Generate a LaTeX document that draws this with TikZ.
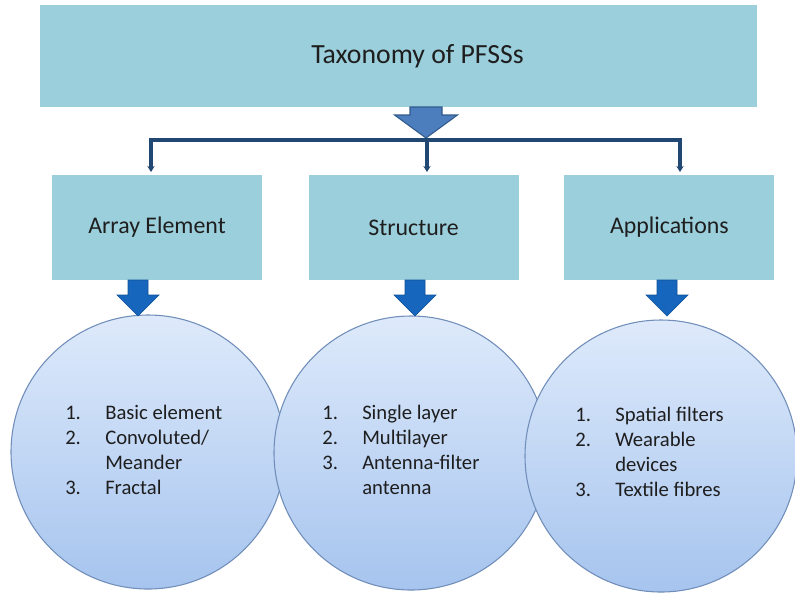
\documentclass[tikz,border=0pt]{standalone}
\usepackage{fontspec}
\setmainfont{Carlito}
\usetikzlibrary{positioning,arrows.meta}
\definecolor{boxblue}{RGB}{155,207,220}
\definecolor{treeblue}{RGB}{33,72,115}
\definecolor{toparrfill}{RGB}{76,126,190}
\definecolor{toparrline}{RGB}{50,90,140}
\definecolor{downblue}{RGB}{22,102,190}
\definecolor{circtop}{RGB}{222,234,251}
\definecolor{circbot}{RGB}{166,196,238}
\definecolor{circline}{RGB}{112,142,185}
\definecolor{textgray}{RGB}{30,30,30}
\newcommand{\lnum}[1]{\makebox[30pt][l]{#1}}

\begin{document}
\begin{tikzpicture}[x=0.75pt,y=-0.75pt,
topnode/.style={rectangle, fill=boxblue, minimum width=537.75pt, minimum height=76.5pt,
font=\fontsize{20.8}{24}\selectfont, text=textgray},
boxnode/.style={rectangle, fill=boxblue, minimum width=157.5pt, minimum height=78.75pt,
font=\fontsize{17.9}{21}\selectfont, text=textgray},
circnode/.style={circle, draw=circline, line width=0.8pt, top color=circtop, bottom color=circbot,
minimum size=205.5pt, inner sep=0pt},
listnode/.style={anchor=west, align=left, inner sep=0pt, text=textgray,
font=\fontsize{15.5}{18.75}\selectfont},
treeline/.style={draw=treeblue, line width=2.4pt, -{Stealth[length=4.5pt,width=5.5pt]}},
toparr/.style={fill=toparrfill, draw=toparrline, line width=0.8pt},
downarr/.style={fill=downblue, draw=downblue!80!black, line width=0.5pt}
]
\useasboundingbox (0,0) rectangle (795,597);
%Circles
\node[circnode] (c1) at (148,452) {};
\node[circnode] (c2) at (411,453) {};
\node[circnode, minimum size=204pt] (c3) at (661,456) {};
%Lists
\node[listnode] (l1) at (65,450) {\lnum{1.}Basic element\\\lnum{2.}Convoluted/\\\lnum{}Meander\\\lnum{3.}Fractal};
\node[listnode] (l2) at (322,450) {\lnum{1.}Single layer\\\lnum{2.}Multilayer\\\lnum{3.}Antenna-filter\\\lnum{}antenna};
\node[listnode] (l3) at (575,452) {\lnum{1.}Spatial filters\\\lnum{2.}Wearable\\\lnum{}devices\\\lnum{3.}Textile fibres};
%Boxes
\node[topnode] (top) at (398.5,56) {\hspace*{28.5pt}Taxonomy of PFSSs};
\node[boxnode] (b1) at (157,227.5) {Array Element};
\node[boxnode] (b2) [right=34.5pt of b1] {Structure};
\node[boxnode] (b3) [right=34pt of b2] {Applications};
%Block arrows
\coordinate (ta) at (426,107);
\filldraw[toparr] (ta) ++(-16,0) -- ++(32,0) -- ++(0,8) -- ++(15.5,0) -- ++(-31.5,23)
  -- ++(-31.5,-23) -- ++(15.5,0) -- cycle;
\coordinate (a1) at (138,280);
\coordinate (a2) at (415,280);
\coordinate (a3) at (667,280);
\foreach \a in {a1,a2,a3}
  \filldraw[downarr] (\a) ++(-10,0) -- ++(20,0) -- ++(0,15) -- ++(11,0) -- ++(-21,21)
    -- ++(-21,-21) -- ++(11,0) -- cycle;
%Lines
\coordinate (split) at (427,140);
\coordinate (e1) at (151,172);
\coordinate (e2) at (427,172);
\coordinate (e3) at (680,172);
\draw[treeline] (split) -| (e1);
\draw[treeline] (split) -- (e2);
\draw[treeline] (split) -| (e3);
\end{tikzpicture}
\end{document}
